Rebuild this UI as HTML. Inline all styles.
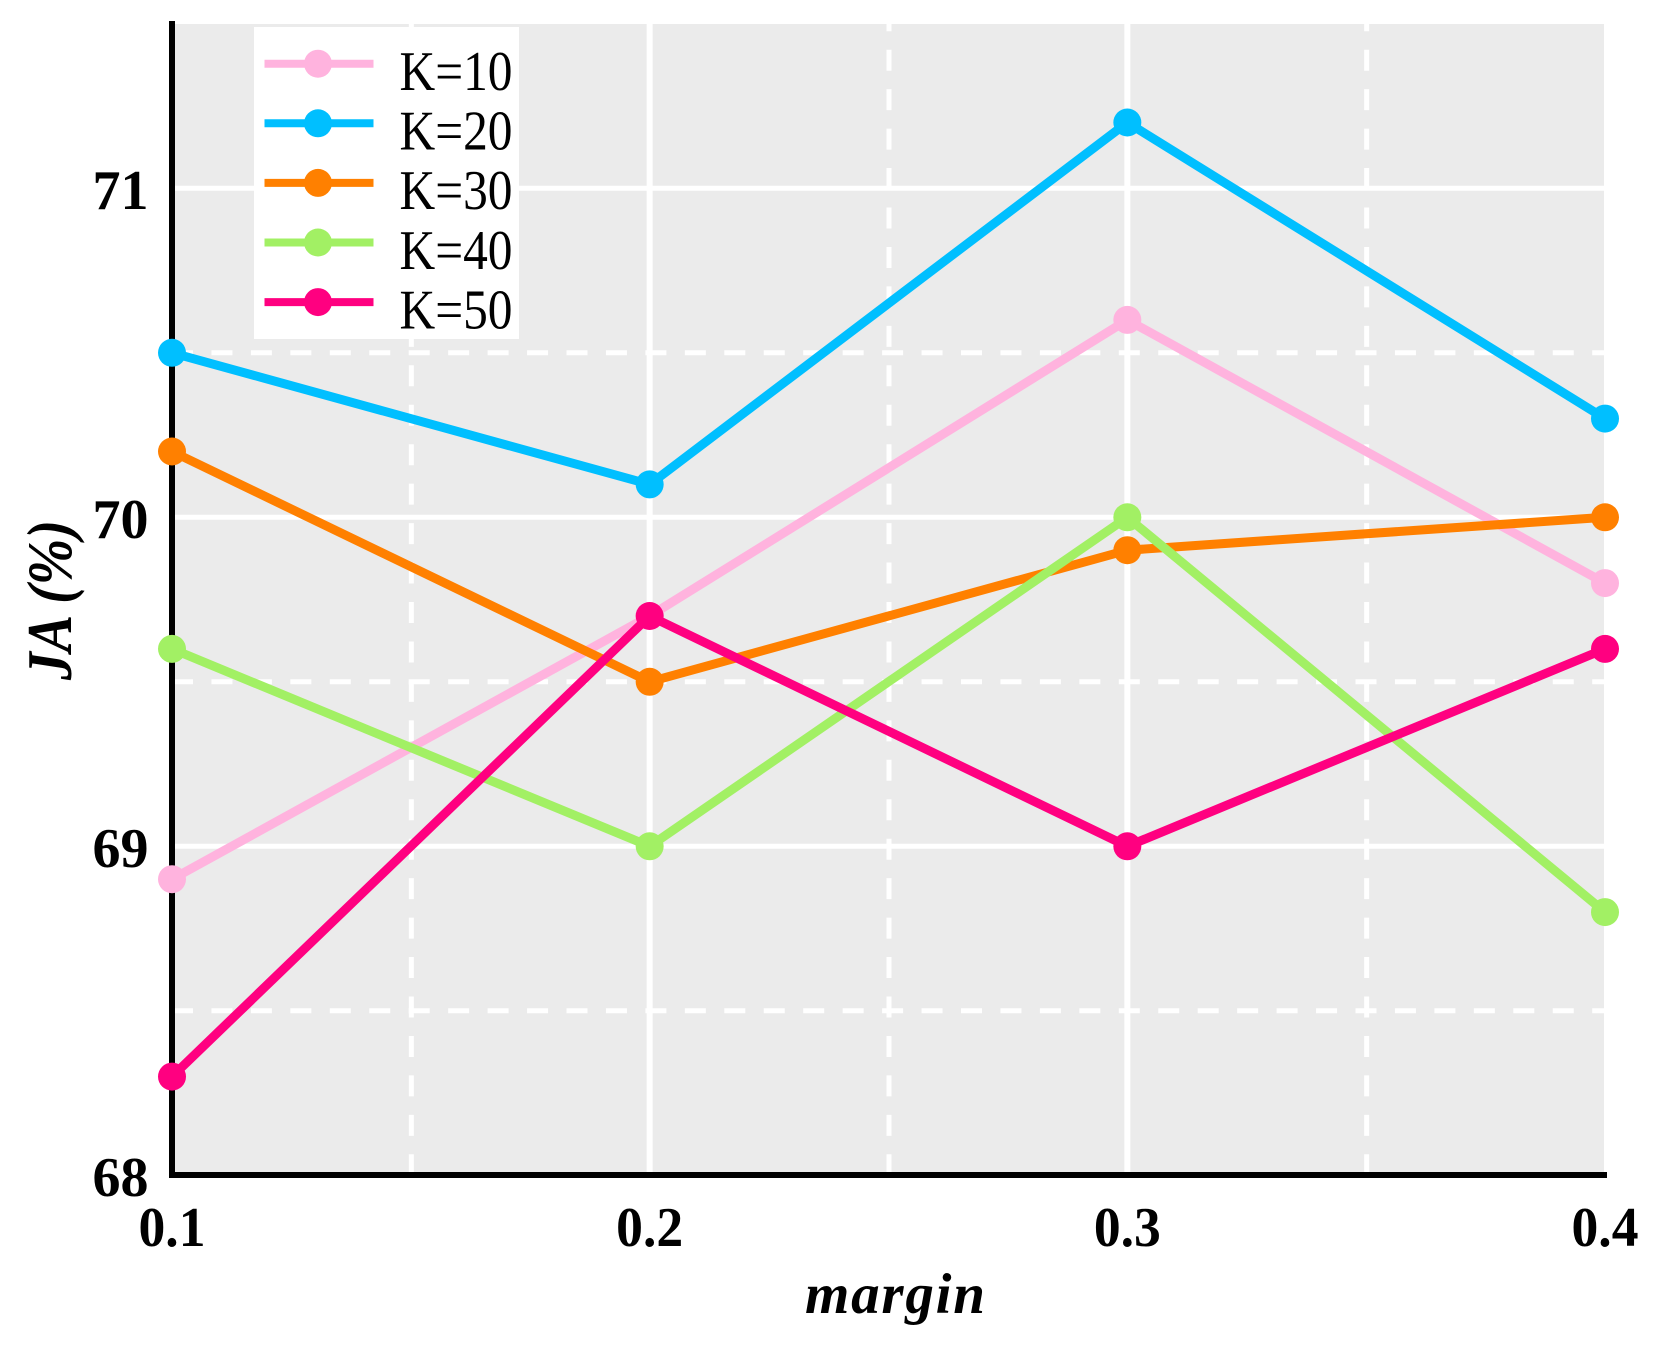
<!DOCTYPE html>
<html lang="en">
<head>
<meta charset="utf-8">
<title>JA vs margin</title>
<style>
html,body{margin:0;padding:0;background:#fff;width:1657px;height:1346px;overflow:hidden}
svg{display:block}
text{font-family:"Liberation Serif",serif;fill:#000}
.tick{font-weight:bold;font-size:56px}
.leg{font-size:56px}
</style>
</head>
<body>
<svg id="chart" xmlns="http://www.w3.org/2000/svg" width="1657" height="1346" viewBox="0 0 1657 1346">
  <rect x="172" y="24" width="1432" height="1151" fill="#ebebeb"/>
  <g id="grid"></g>
  <g id="series"></g>
  <g id="spines"></g>
  <g id="markers"></g>
  <g id="xticks"></g>
  <g id="yticks"></g>
  <text x="805" y="1313" font-size="57" font-weight="bold" font-style="italic" textLength="180" lengthAdjust="spacing">margin</text>
  <text transform="translate(71,600) rotate(-90) scale(1,1.14)" text-anchor="middle" font-size="56" font-weight="bold" font-style="italic">JA (%)</text>
  <g id="legend">
    <rect x="254" y="27" width="265" height="312" fill="#ffffff"/>
  </g>
</svg>
<script>
const xCategories = [0.1, 0.2, 0.3, 0.4];
const xTickLabels = ['0.1', '0.2', '0.3', '0.4'];
const xMinorTicks = [0.15, 0.25, 0.35];
const yTicks = [68, 69, 70, 71];
const yMinorTicks = [68.5, 69.5, 70.5];
const seriesNames = ['K=10', 'K=20', 'K=30', 'K=40', 'K=50'];
const seriesColors = ['#ffb3de', '#00bfff', '#ff8000', '#a2f064', '#ff0080'];
const k10 = [68.9, 69.7, 70.6, 69.8];
const k20 = [70.5, 70.1, 71.2, 70.3];
const k30 = [70.2, 69.5, 69.9, 70.0];
const k40 = [69.6, 69.0, 70.0, 68.8];
const k50 = [68.3, 69.7, 69.0, 69.6];
const allSeries = [k10, k20, k30, k40, k50];

const NS = 'http://www.w3.org/2000/svg';
const X0 = 172, X1 = 1605, Y0 = 1175.3, Y1 = 23.8;
const bgRight = 1604;
const xMin = 0.1, xMax = 0.4, yMin = 68, yMax = 71.5;
function sx(v) { return X0 + (v - xMin) / (xMax - xMin) * (X1 - X0); }
function sy(v) { return Y0 - (v - yMin) / (yMax - yMin) * (Y0 - Y1); }
function mk(tag, parent) {
  const el = document.createElementNS(NS, tag);
  parent.appendChild(el);
  return el;
}
function setLine(el, x1, y1, x2, y2, color, w) {
  el.setAttribute('x1', x1);
  el.setAttribute('y1', y1);
  el.setAttribute('x2', x2);
  el.setAttribute('y2', y2);
  el.setAttribute('stroke', color);
  el.setAttribute('stroke-width', w);
}

const grid = document.getElementById('grid');
yMinorTicks.forEach(function (v) {
  const l = mk('line', grid);
  
  
  setLine(l, X0, sy(v), bgRight, sy(v), '#ffffff', 5);
  l.setAttribute('stroke-dasharray', '21 18.45');
});
xMinorTicks.forEach(function (v) {
  const l = mk('line', grid);
  
  
  setLine(l, sx(v) + 0.5, Y0, sx(v) + 0.5, Y1, '#ffffff', 5);
  l.setAttribute('stroke-dasharray', '21 18.45');
});
yTicks.forEach(function (v) {
  const l = mk('line', grid);
  
  
  setLine(l, X0, sy(v), bgRight, sy(v), '#ffffff', 5);
});
xCategories.slice(0, -1).forEach(function (v) {
  const l = mk('line', grid);
  
  
  setLine(l, sx(v), Y0, sx(v), Y1, '#ffffff', 6);
});

const spines = document.getElementById('spines');
const leftSpine = mk('line', spines);


setLine(leftSpine, X0, 21, X0, 1178, '#000000', 6);
const bottomSpine = mk('line', spines);


setLine(bottomSpine, 169, 1175, 1607, 1175, '#000000', 6);

const markersG = document.getElementById('markers');
allSeries.forEach(function (values, i) {
  const p = mk('polyline', markersG);
  
  
  p.setAttribute('points', values.map(function (v, j) { return sx(xCategories[j]) + ',' + sy(v); }).join(' '));
  p.setAttribute('fill', 'none');
  p.setAttribute('stroke', seriesColors[i]);
  p.setAttribute('stroke-width', 9);
  p.setAttribute('stroke-linejoin', 'round');
  values.forEach(function (v, j) {
    const c = mk('circle', markersG);
    
    
    c.setAttribute('cx', sx(xCategories[j]));
    c.setAttribute('cy', sy(v));
    c.setAttribute('r', 14);
    c.setAttribute('fill', seriesColors[i]);
  });
});

const xt = document.getElementById('xticks');
xCategories.forEach(function (v, i) {
  const t = mk('text', xt);
  
  
  t.setAttribute('class', 'tick');
  t.setAttribute('x', sx(v));
  t.setAttribute('y', 1246);
  t.setAttribute('text-anchor', 'middle');
  t.setAttribute('textLength', 67);
  t.setAttribute('lengthAdjust', 'spacingAndGlyphs');
  t.textContent = xTickLabels[i];
});
const yt = document.getElementById('yticks');
yTicks.forEach(function (v) {
  const t = mk('text', yt);
  
  
  t.setAttribute('class', 'tick');
  t.setAttribute('x', 148.5);
  t.setAttribute('y', sy(v) + 20.7);
  t.setAttribute('text-anchor', 'end');
  t.textContent = String(v);
});

const legend = document.getElementById('legend');
seriesNames.forEach(function (name, i) {
  const cy = 63.7 + i * 59.6;
  const l = mk('line', legend);
  
  
  setLine(l, 264.5, cy, 373.5, cy, seriesColors[i], 8);
  const c = mk('circle', legend);
  
  
  c.setAttribute('cx', 318);
  c.setAttribute('cy', cy);
  c.setAttribute('r', 14);
  c.setAttribute('fill', seriesColors[i]);
  const t = mk('text', legend);
  
  
  t.setAttribute('class', 'leg');
  t.setAttribute('x', 399.5);
  t.setAttribute('y', cy + 26.3);
  t.setAttribute('textLength', 113);
  t.setAttribute('lengthAdjust', 'spacingAndGlyphs');
  t.textContent = name;
});
</script>
</body>
</html>
